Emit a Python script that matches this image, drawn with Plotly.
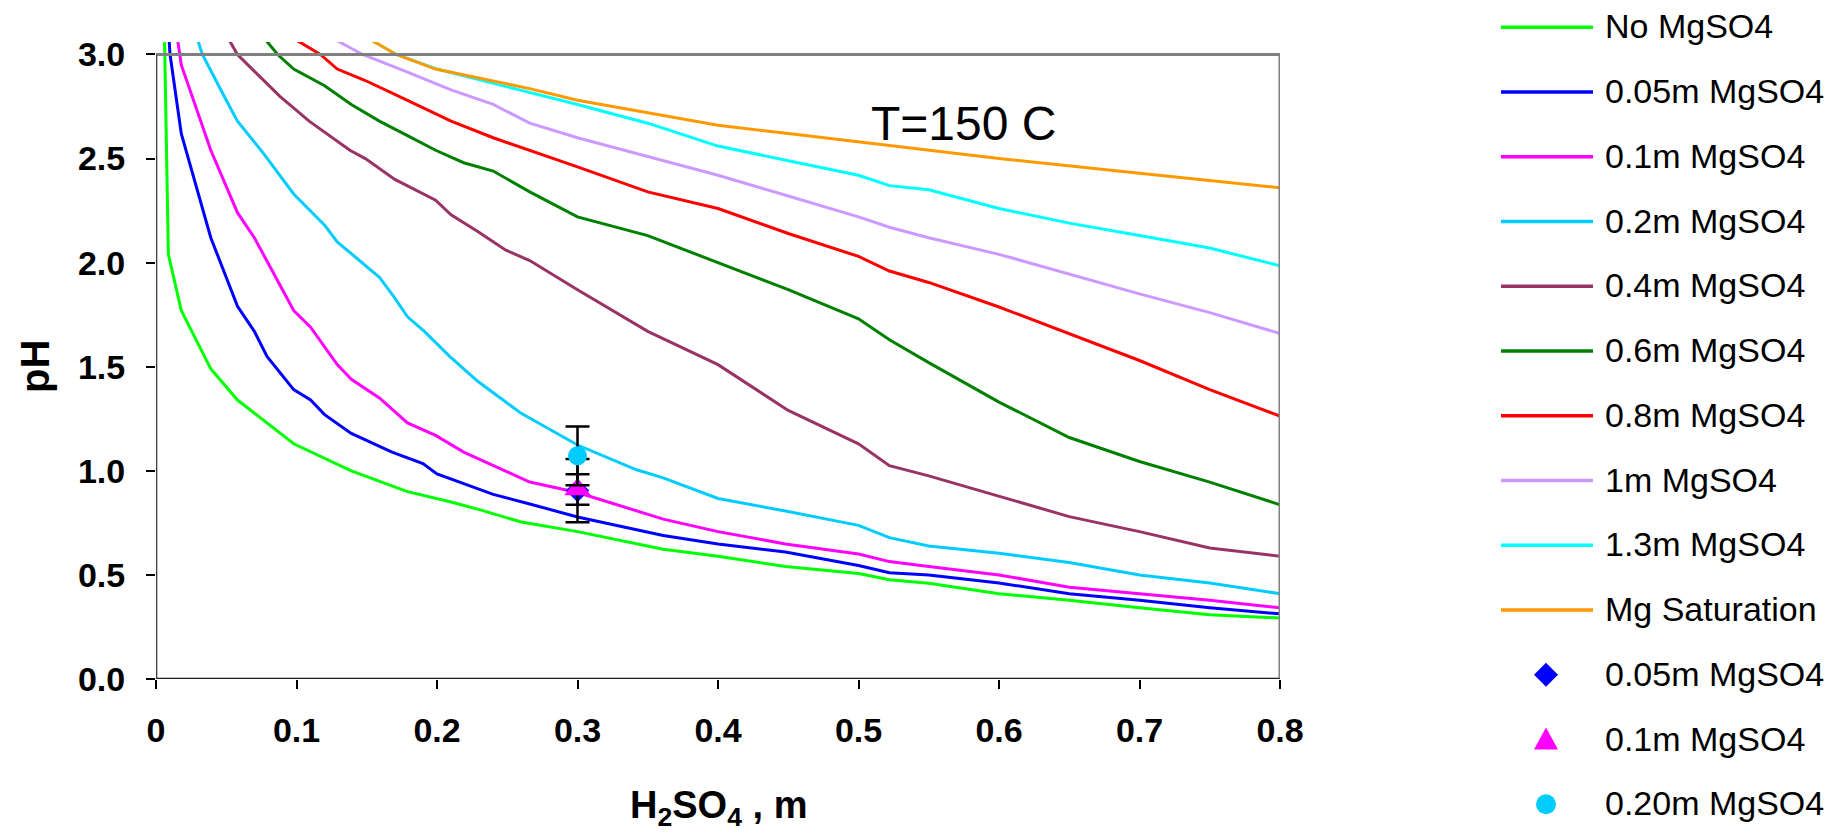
import plotly.graph_objects as go

# pH of H2SO4 solutions at 150 C for several MgSO4 molalities
x_no = [0.006, 0.0088, 0.018, 0.039, 0.058, 0.098, 0.139, 0.179, 0.21, 0.232, 0.26, 0.3, 0.361, 0.4, 0.448, 0.5, 0.522, 0.55, 0.6, 0.65, 0.7, 0.75, 0.8]
y_no = [3.1, 2.04, 1.77, 1.49, 1.34, 1.13, 1.0, 0.90, 0.85, 0.81, 0.754, 0.708, 0.623, 0.59, 0.54, 0.507, 0.477, 0.46, 0.41, 0.378, 0.342, 0.309, 0.293]

x_005 = [0.009, 0.01, 0.018, 0.039, 0.058, 0.07, 0.079, 0.098, 0.11, 0.12, 0.139, 0.168, 0.19, 0.2, 0.22, 0.24, 0.266, 0.3, 0.361, 0.4, 0.448, 0.5, 0.522, 0.55, 0.6, 0.65, 0.7, 0.75, 0.8]
y_005 = [3.1, 3.0, 2.62, 2.12, 1.79, 1.67, 1.55, 1.39, 1.34, 1.27, 1.18, 1.09, 1.035, 0.985, 0.936, 0.887, 0.841, 0.778, 0.689, 0.649, 0.61, 0.545, 0.51, 0.50, 0.461, 0.41, 0.378, 0.342, 0.313]

x_01 = [0.0154, 0.018, 0.039, 0.058, 0.07, 0.098, 0.11, 0.129, 0.139, 0.159, 0.179, 0.199, 0.219, 0.24, 0.25, 0.266, 0.3, 0.361, 0.4, 0.448, 0.5, 0.522, 0.55, 0.6, 0.65, 0.7, 0.75, 0.8]
y_01 = [3.07, 2.95, 2.54, 2.24, 2.12, 1.77, 1.69, 1.51, 1.44, 1.35, 1.23, 1.17, 1.09, 1.025, 0.995, 0.946, 0.896, 0.768, 0.708, 0.649, 0.60, 0.564, 0.54, 0.50, 0.441, 0.41, 0.378, 0.342]

x_02 = [0.0297, 0.033, 0.05, 0.058, 0.077, 0.098, 0.12, 0.129, 0.159, 0.17, 0.179, 0.191, 0.209, 0.219, 0.229, 0.241, 0.259, 0.3, 0.342, 0.361, 0.4, 0.448, 0.5, 0.522, 0.55, 0.6, 0.65, 0.7, 0.75, 0.8]
y_02 = [3.07, 3.0, 2.78, 2.68, 2.52, 2.33, 2.18, 2.10, 1.93, 1.83, 1.74, 1.67, 1.55, 1.49, 1.43, 1.37, 1.28, 1.124, 1.005, 0.966, 0.867, 0.807, 0.738, 0.679, 0.639, 0.604, 0.56, 0.50, 0.461, 0.41]

x_04 = [0.052, 0.058, 0.088, 0.109, 0.138, 0.149, 0.17, 0.199, 0.21, 0.229, 0.249, 0.266, 0.3, 0.35, 0.4, 0.45, 0.5, 0.522, 0.55, 0.6, 0.65, 0.7, 0.75, 0.8]
y_04 = [3.07, 3.0, 2.80, 2.68, 2.54, 2.50, 2.40, 2.30, 2.23, 2.15, 2.06, 2.01, 1.87, 1.67, 1.51, 1.29, 1.13, 1.025, 0.976, 0.877, 0.78, 0.708, 0.629, 0.59]

x_06 = [0.078, 0.0866, 0.098, 0.12, 0.139, 0.159, 0.179, 0.199, 0.219, 0.24, 0.266, 0.3, 0.35, 0.4, 0.45, 0.5, 0.522, 0.55, 0.6, 0.65, 0.7, 0.75, 0.8]
y_06 = [3.07, 3.0, 2.93, 2.85, 2.76, 2.68, 2.61, 2.54, 2.48, 2.44, 2.34, 2.22, 2.13, 2.00, 1.87, 1.73, 1.63, 1.52, 1.33, 1.16, 1.045, 0.946, 0.837]

x_08 = [0.0997, 0.117, 0.129, 0.149, 0.179, 0.21, 0.24, 0.266, 0.3, 0.35, 0.4, 0.45, 0.5, 0.522, 0.55, 0.6, 0.65, 0.7, 0.75, 0.8]
y_08 = [3.07, 3.0, 2.93, 2.875, 2.78, 2.68, 2.60, 2.54, 2.46, 2.34, 2.26, 2.14, 2.03, 1.96, 1.905, 1.787, 1.66, 1.53, 1.39, 1.263]

x_10 = [0.128, 0.147, 0.179, 0.21, 0.24, 0.266, 0.3, 0.35, 0.4, 0.45, 0.5, 0.522, 0.55, 0.6, 0.65, 0.7, 0.75, 0.8]
y_10 = [3.07, 3.0, 2.915, 2.83, 2.76, 2.67, 2.60, 2.51, 2.42, 2.32, 2.22, 2.17, 2.12, 2.04, 1.945, 1.85, 1.76, 1.66]

x_13 = [0.153, 0.171, 0.2, 0.232, 0.266, 0.3, 0.35, 0.4, 0.45, 0.5, 0.522, 0.55, 0.6, 0.65, 0.7, 0.75, 0.8]
y_13 = [3.07, 3.0, 2.93, 2.875, 2.82, 2.76, 2.67, 2.56, 2.49, 2.42, 2.37, 2.35, 2.26, 2.19, 2.13, 2.07, 1.985]

x_sat = [0.153, 0.171, 0.199, 0.232, 0.266, 0.3, 0.35, 0.4, 0.45, 0.5, 0.6, 0.7, 0.8]
y_sat = [3.07, 3.0, 2.93, 2.885, 2.836, 2.78, 2.72, 2.66, 2.62, 2.58, 2.50, 2.43, 2.36]

# measured points with error bars
x_meas = [0.3]
y_meas_005 = [0.905]
err_005 = [0.152]
y_meas_01 = [0.91]
err_01 = [0.073]
y_meas_02 = [1.072]
err_02 = [0.141]

line_names = ["No MgSO4", "0.05m MgSO4", "0.1m MgSO4", "0.2m MgSO4", "0.4m MgSO4",
              "0.6m MgSO4", "0.8m MgSO4", "1m MgSO4", "1.3m MgSO4", "Mg Saturation"]
line_colors = ["#00FF00", "#0000FF", "#FF00FF", "#00CCFF", "#993366",
               "#008000", "#FF0000", "#CC99FF", "#00FFFF", "#FF9900"]
line_x = [x_no, x_005, x_01, x_02, x_04, x_06, x_08, x_10, x_13, x_sat]
line_y = [y_no, y_005, y_01, y_02, y_04, y_06, y_08, y_10, y_13, y_sat]

point_names = ["0.05m MgSO4", "0.1m MgSO4", "0.20m MgSO4"]
point_symbols = ["diamond", "triangle-up", "circle"]
point_sizes = [18, 23, 19]
point_colors = ["#0000FF", "#FF00FF", "#00CCFF"]
point_y = [y_meas_005, y_meas_01, y_meas_02]
point_err = [err_005, err_01, err_02]

x_ticks = [0, 0.1, 0.2, 0.3, 0.4, 0.5, 0.6, 0.7, 0.8]
x_ticktext = ["0", "0.1", "0.2", "0.3", "0.4", "0.5", "0.6", "0.7", "0.8"]
y_ticks = [0, 0.5, 1.0, 1.5, 2.0, 2.5, 3.0]
y_ticktext = ["0.0", "0.5", "1.0", "1.5", "2.0", "2.5", "3.0"]

FONT = "Liberation Sans, Arial, sans-serif"
W, H = 1846, 834
ML, MR, MT, MB = 156, 566, 42, 155
PW, PH = W - ML - MR, H - MT - MB

fig = go.Figure()

for name, color, xs, ys in zip(line_names, line_colors, line_x, line_y):
    fig.add_trace(go.Scatter(x=xs, y=ys, mode="lines", name=name,
                             line=dict(color=color, width=3), showlegend=False))

for name, sym, size, color, ys, err in zip(point_names, point_symbols, point_sizes,
                                            point_colors, point_y, point_err):
    fig.add_trace(go.Scatter(
        x=x_meas, y=ys, mode="markers", name=name, showlegend=False,
        marker=dict(symbol=sym, size=size, color=color, line=dict(width=0)),
        error_y=dict(type="data", array=err, symmetric=True, color="black",
                     thickness=2.5, width=12)))

# plot-area frame and axis lines
fig.add_shape(type="rect", xref="x", yref="y", x0=0, x1=0.8, y0=0, y1=3.0,
              line=dict(color="#808080", width=3), layer="above")
fig.add_shape(type="line", xref="x", yref="y", x0=0, x1=0, y0=0, y1=3.0,
              line=dict(color="#404040", width=2), layer="above")
fig.add_shape(type="line", xref="x", yref="y", x0=0, x1=0.8, y0=0, y1=0,
              line=dict(color="#202020", width=2), layer="above")


def px_x(px):
    return (px - ML) / PW


def px_y(py):
    return (H - MB - py) / PH


# legend drawn beside the plot
legend_labels = line_names + point_names
row_y = [27.3 + 64.75 * i for i in range(len(legend_labels))]
for i, (label, yy) in enumerate(zip(legend_labels, row_y)):
    if i < len(line_names):
        fig.add_shape(type="line", xref="paper", yref="paper",
                      x0=px_x(1501), x1=px_x(1593), y0=px_y(yy), y1=px_y(yy),
                      line=dict(color=line_colors[i], width=3.5))
    fig.add_annotation(xref="paper", yref="paper", x=px_x(1603), y=px_y(yy - 1),
                       text=label, showarrow=False, xanchor="left", yanchor="middle",
                       font=dict(family=FONT, size=34, color="black"))

# legend symbols for the measured points (pixel-sized, anchored in paper space)
legend_paths = ["M0,-12 L12,0 L0,12 L-12,0 Z",
                "M-12,-10 L12,-10 L0,12 Z",
                None]
for j in range(len(point_names)):
    yy = row_y[len(line_names) + j]
    common = dict(xref="paper", yref="paper", xsizemode="pixel", ysizemode="pixel",
                  xanchor=px_x(1546), yanchor=px_y(yy),
                  fillcolor=point_colors[j], line=dict(width=0))
    if legend_paths[j] is None:
        fig.add_shape(type="circle", x0=-10, x1=10, y0=-10, y1=10, **common)
    else:
        fig.add_shape(type="path", path=legend_paths[j], **common)

fig.add_annotation(xref="x", yref="y", x=0.575, y=2.668, text="T=150 C", showarrow=False,
                   xanchor="center", yanchor="middle",
                   font=dict(family=FONT, size=48, color="black"))
fig.add_annotation(xref="paper", yref="paper", x=px_x(718), y=px_y(808),
                   text="<b>H<sub>2</sub>SO<sub>4</sub> , m</b>", showarrow=False,
                   xanchor="center", yanchor="middle",
                   font=dict(family=FONT, size=38, color="black"))
fig.add_annotation(xref="paper", yref="paper", x=px_x(35), y=px_y(367),
                   text="<b>pH</b>", textangle=-90, showarrow=False,
                   xanchor="center", yanchor="middle",
                   font=dict(family=FONT, size=40, color="black"))

fig.update_layout(
    width=W, height=H,
    margin=dict(l=ML, r=MR, t=MT, b=MB, pad=0),
    paper_bgcolor="white", plot_bgcolor="white",
    font=dict(family=FONT, color="black"),
    showlegend=False,
    xaxis=dict(range=[0, 0.8], tickvals=x_ticks, ticktext=x_ticktext,
               showgrid=False, zeroline=False, showline=False,
               ticks="outside", ticklen=9, tickwidth=1.5, tickcolor="black",
               tickfont=dict(family=FONT, size=34, weight="bold"),
               ticklabelstandoff=12),
    yaxis=dict(range=[0, 3.06], tickvals=y_ticks, ticktext=y_ticktext,
               showgrid=False, zeroline=False, showline=False,
               ticks="outside", ticklen=9, tickwidth=1.5, tickcolor="black",
               tickfont=dict(family=FONT, size=34, weight="bold"),
               ticklabelstandoff=14),
)

fig.write_html("out.html")
